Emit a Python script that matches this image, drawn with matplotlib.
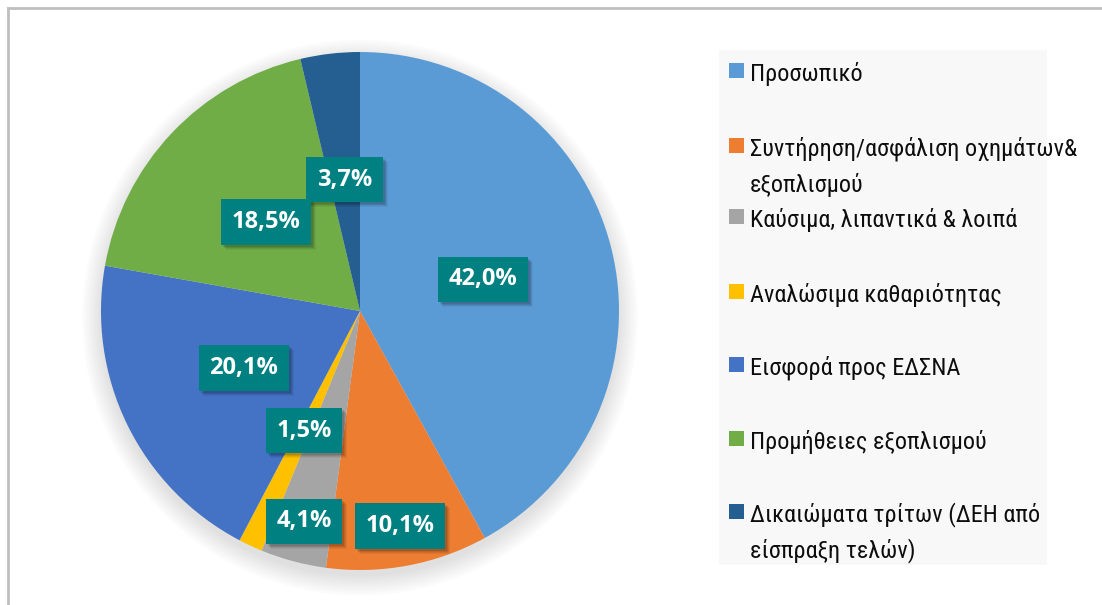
import matplotlib.pyplot as plt
from matplotlib.patches import Circle, Rectangle
from matplotlib.lines import Line2D
import numpy as np

categories = [
    "Προσωπικό",
    "Συντήρηση/ασφάλιση οχημάτων&\nεξοπλισμού",
    "Καύσιμα, λιπαντικά & λοιπά",
    "Αναλώσιμα καθαριότητας",
    "Εισφορά προς ΕΔΣΝΑ",
    "Προμήθειες εξοπλισμού",
    "Δικαιώματα τρίτων (ΔΕΗ από\nείσπραξη τελών)",
]
shares = [42.0, 10.1, 4.1, 1.5, 20.1, 18.5, 3.7]
colors = ["#5B9BD5", "#ED7D31", "#A5A5A5", "#FFC000", "#4472C4", "#70AD47", "#255E91"]

W, H = 1102, 605
fig = plt.figure(figsize=(W / 100, H / 100), dpi=100)
fig.patch.set_facecolor("white")


def fx(x):
    return x / W


def fy(y):
    return 1 - y / H


# outer frame (top and left edges visible)
fig.add_artist(Line2D([fx(7.5), 1], [fy(8), fy(8)], transform=fig.transFigure, color="#bfbfbf", lw=2))
fig.add_artist(Line2D([fx(7.5), fx(7.5)], [fy(8), 0], transform=fig.transFigure, color="#bfbfbf", lw=2))

# pie axes
cx, cy, r = 360, 311, 259
ax = fig.add_axes([fx(cx - r * 1.1), fy(cy + r * 1.1), 2.2 * r / W, 2.2 * r / H])

# soft shadow around the pie
for i in range(10):
    ax.add_patch(Circle((0, -0.025), 1.0 + 0.008 * i, color="#7f7f7f", alpha=0.025, zorder=0, lw=0))

wedges, _ = ax.pie(shares, colors=colors, startangle=90, counterclock=False, radius=1,
                   wedgeprops=dict(linewidth=0), frame=False)
ax.set_xlim(-1.1, 1.1)
ax.set_ylim(-1.1, 1.1)
ax.axis("off")

label_dist = [0.49, 0.845, 0.84, 0.51, 0.5, 0.5, 0.51]
labels = []
for w, v, d in zip(wedges, shares, label_dist):
    ang = np.deg2rad((w.theta1 + w.theta2) / 2)
    x, y = d * np.cos(ang), d * np.sin(ang)
    txt = f"{v:.1f}%".replace(".", ",")
    t = ax.text(x, y, txt, ha="center", va="center", fontsize=17, fontweight="bold",
                family="Open Sans", color="white", zorder=5,
                bbox=dict(boxstyle="square,pad=0.45", lw=0, facecolor="#008080"))
    labels.append(t)

# soft drop shadow behind the label boxes
fig.canvas.draw()
inv = ax.transData.inverted()
for t in labels:
    bb = t.get_bbox_patch().get_window_extent()
    for off, a in [(5, 0.05), (4, 0.07), (3, 0.09), (2, 0.10)]:
        (x0, y0), (x1, y1) = inv.transform([(bb.x0 + off, bb.y0 - off), (bb.x1 + off, bb.y1 - off)])
        ax.add_patch(Rectangle((x0, y0), x1 - x0, y1 - y0, facecolor="black",
                               alpha=a, lw=0, zorder=4))

# legend panel
fig.add_artist(Rectangle((fx(719), fy(565)), (1047 - 719) / W, (565 - 50) / H,
                         transform=fig.transFigure, facecolor="#f8f8f8", edgecolor="none"))
entry_y = [74, 149, 220, 295, 368, 442, 515]
for lab, col, y0 in zip(categories, colors, entry_y):
    fig.add_artist(Rectangle((fx(729), fy(y0 + 4)), 15 / W, 15 / H,
                             transform=fig.transFigure, facecolor=col, edgecolor="none"))
    for k, line in enumerate(lab.split("\n")):
        fig.text(fx(750), fy(y0 + k * 36), line, ha="left", va="center", fontsize=17.5,
                 family=["Roboto Condensed", "DejaVu Sans"], color="#0d0d0d")

fig.savefig("out.png", dpi=100)
